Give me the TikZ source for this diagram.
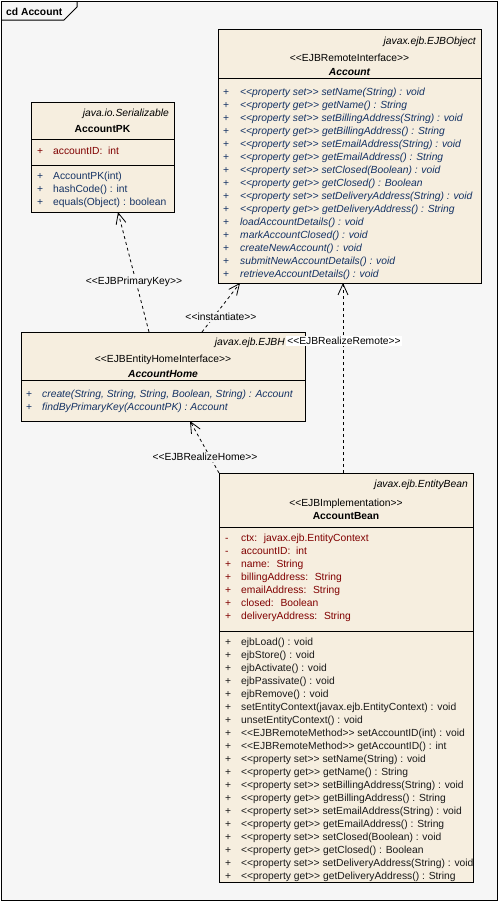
\documentclass[tikz,border=0pt]{standalone}
\usepackage{fontspec}
\newfontfamily\umlf{Liberation Sans}
\usetikzlibrary{arrows.meta,calc}
\definecolor{bg}{RGB}{246,246,246}
\definecolor{boxfill}{RGB}{246,238,223}
\definecolor{attr}{RGB}{128,0,0}
\definecolor{oper}{RGB}{20,50,100}
\definecolor{operk}{RGB}{25,25,25}
\newcommand\st[1]{<\kern0pt<#1>\kern0pt>}
\newcommand\uf{\umlf\fontsize{10.3}{12}\selectfont}
% #1 name prefix, #2 sign x, #3 text x, #4 first baseline, #5 colour, #6 extra text style, #7 list sign/text
\newcommand\umlrows[7]{%
  \foreach \s/\t [count=\i from 0] in {#7} {
    \node[txt,text=#5] (#1s\i) at ({#2},{#4+13*\i}) {\s};
    \node[txt,text=#5,#6] (#1t\i) at ({#3},{#4+13*\i}) {\t};
  }}
\begin{document}
\begin{tikzpicture}[x=1pt,y=-1pt,
  box/.style={draw, line width=1pt, fill=boxfill, inner sep=0, outer sep=0, anchor=north west},
  txt/.style={inner sep=0, anchor=base west, font=\uf},
  ns/.style={inner sep=0, anchor=base east, font=\uf\itshape},
  ctr/.style={inner sep=0, anchor=base, font=\uf},
  lbl/.style={inner sep=1.5pt, fill=bg, font=\uf},
  sep/.style={line width=1pt},
  dep/.style={dash pattern=on 3pt off 3pt, line width=0.8pt,
    -{Straight Barb[length=11pt,width=10pt,line width=0.8pt]}},
]
\useasboundingbox (0,0) rectangle (499,902);
\fill[white] (0,0) rectangle (499,902);
% frame
\node[draw, line width=1pt, fill=bg, inner sep=0, anchor=north west,
  minimum width=496pt, minimum height=899pt] (frame) at (1,1) {};
\draw[line width=1pt] ($(frame.north west)+(0,19)$) -- ++(63,0) -- ++(13,-13) -- ++(0,-6);
\node[txt, font=\uf\bfseries] (title) at (6,15) {cd Account};

% ---------- boxes ----------
\node[box, minimum width=143pt, minimum height=110pt] (pk) at (31,102) {};
\node[box, minimum width=263pt, minimum height=254pt] (acc) at (218,29) {};
\node[box, minimum width=284pt, minimum height=89pt] (home) at (21,332) {};
\node[box, minimum width=254pt, minimum height=409pt] (bean) at (219,473) {};

% ---------- connectors ----------
\draw[dep] ($(home.north west)+(128,0)$) -- ($(pk.south west)+(87,0)$);
\draw[dep] ($(home.north west)+(181,0)$) -- ($(acc.south west)+(22,0)$);
\draw[dep] ($(bean.north west)+(124,0)$) -- ($(acc.south west)+(125,0)$);
\draw[dep] (bean.north west) -- ($(home.south west)+(169,0)$);

\node[lbl] (lpk) at (134,282) {\st{EJBPrimaryKey}};
\node[lbl] (linst) at (221,317) {\st{instantiate}};
\node[lbl] (lhome) at (205,457) {\st{EJBRealizeHome}};

% ---------- AccountPK ----------
\draw[sep] ($(pk.north west)+(0,37)$) -- ($(pk.north east)+(0,37)$);
\draw[sep] ($(pk.north west)+(0,63)$) -- ($(pk.north east)+(0,63)$);
\node[ns] (pkns) at (169,116) {java.io.Serializable};
\node[ctr, font=\uf\bfseries] (pkname) at (102.5,132) {AccountPK};
\umlrows{pka}{37}{53}{154}{attr}{}{+/{accountID: \ int}}
\umlrows{pko}{37}{53}{179}{oper}{}{+/{AccountPK(int)},+/{hashCode() : int},+/{equals(Object) : boolean}}

% ---------- Account ----------
\draw[sep] ($(acc.north west)+(0,49)$) -- ($(acc.north east)+(0,49)$);
\node[ns] (accns) at (476,44) {javax.ejb.EJBObject};
\node[ctr] (accst) at (349.5,61) {\st{EJBRemoteInterface}};
\node[ctr, font=\uf\bfseries\itshape] (accname) at (349.5,75) {Account};
\umlrows{acco}{223}{240}{95}{oper}{font=\uf\itshape}{%
+/{\st{property set} setName(String) : void},
+/{\st{property get} getName() : String},
+/{\st{property set} setBillingAddress(String) : void},
+/{\st{property get} getBillingAddress() : String},
+/{\st{property set} setEmailAddress(String) : void},
+/{\st{property get} getEmailAddress() : String},
+/{\st{property set} setClosed(Boolean) : void},
+/{\st{property get} getClosed() : Boolean},
+/{\st{property set} setDeliveryAddress(String) : void},
+/{\st{property get} getDeliveryAddress() : String},
+/{loadAccountDetails() : void},
+/{markAccountClosed() : void},
+/{createNewAccount() : void},
+/{submitNewAccountDetails() : void},
+/{retrieveAccountDetails() : void}}

% ---------- AccountHome ----------
\draw[sep] ($(home.north west)+(0,48)$) -- ($(home.north east)+(0,48)$);
\node[ns] (homens) at (285,345) {javax.ejb.EJBH};
\node[ctr] (homest) at (163,362) {\st{EJBEntityHomeInterface}};
\node[ctr, font=\uf\bfseries\itshape] (homename) at (163,377) {AccountHome};
\umlrows{homeo}{26}{42}{397}{oper}{font=\uf\itshape}{%
+/{create(String, String, String, Boolean, String) : Account},
+/{findByPrimaryKey(AccountPK) : Account}}
\node[lbl, fill=white] (lremote) at (344,341) {\st{EJBRealizeRemote}};

% ---------- AccountBean ----------
\draw[sep] ($(bean.north west)+(0,54)$) -- ($(bean.north east)+(0,54)$);
\draw[sep] ($(bean.north west)+(0,158)$) -- ($(bean.north east)+(0,158)$);
\node[ns] (beanns) at (468,487) {javax.ejb.EntityBean};
\node[ctr] (beanst) at (346,506) {\st{EJBImplementation}};
\node[ctr, font=\uf\bfseries] (beanname) at (346,519) {AccountBean};
\umlrows{beana}{225}{241}{541}{attr}{}{%
-/{ctx: \ javax.ejb.EntityContext},
-/{accountID: \ int},
+/{name: \ String},
+/{billingAddress: \ String},
+/{emailAddress: \ String},
+/{closed: \ Boolean},
+/{deliveryAddress: \ String}}
\umlrows{beano}{225}{241}{645}{operk}{}{%
+/{ejbLoad() : void},
+/{ejbStore() : void},
+/{ejbActivate() : void},
+/{ejbPassivate() : void},
+/{ejbRemove() : void},
+/{setEntityContext(javax.ejb.EntityContext) : void},
+/{unsetEntityContext() : void},
+/{\st{EJBRemoteMethod} setAccountID(int) : void},
+/{\st{EJBRemoteMethod} getAccountID() : int},
+/{\st{property set} setName(String) : void},
+/{\st{property get} getName() : String},
+/{\st{property set} setBillingAddress(String) : void},
+/{\st{property get} getBillingAddress() : String},
+/{\st{property set} setEmailAddress(String) : void},
+/{\st{property get} getEmailAddress() : String},
+/{\st{property set} setClosed(Boolean) : void},
+/{\st{property get} getClosed() : Boolean},
+/{\st{property set} setDeliveryAddress(String) : void},
+/{\st{property get} getDeliveryAddress() : String}}
\end{tikzpicture}
\end{document}
